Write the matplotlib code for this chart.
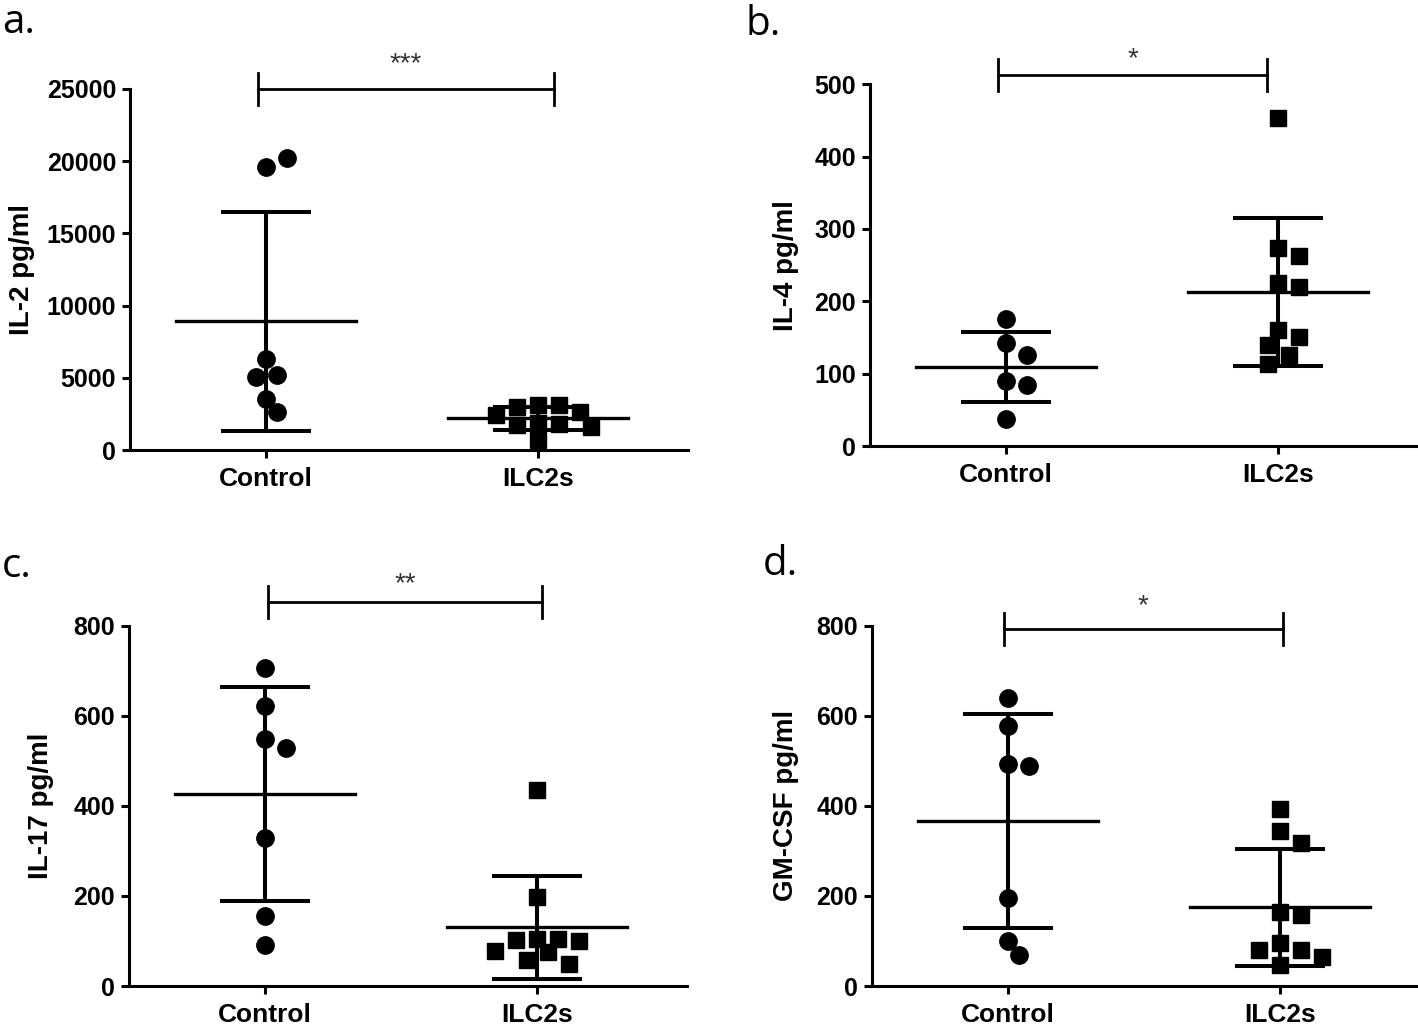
import numpy as np
import matplotlib.pyplot as plt

plt.rcParams['font.family'] = ['Liberation Sans', 'DejaVu Sans']

# ---- data ----
groups = ["Control", "ILC2s"]

il2_control = [19570, 20220, 6290, 5200, 5080, 3510, 2660]
il2_ilc2s = [3150, 3100, 3000, 2600, 2400, 1900, 1800, 1700, 1600, 700]
il4_control = [175, 142, 126, 90, 84, 38]
il4_ilc2s = [453, 274, 263, 226, 220, 161, 151, 140, 126, 113]
il17_control = [707, 622, 548, 528, 328, 155, 92]
il17_ilc2s = [435, 197, 105, 105, 102, 100, 78, 75, 58, 48]
gmcsf_control = [639, 578, 493, 489, 195, 100, 69]
gmcsf_ilc2s = [394, 344, 318, 164, 158, 95, 81, 80, 65, 47]

panel_letters = ["a.", "b.", "c.", "d."]
y_labels = ["IL-2 pg/ml", "IL-4 pg/ml", "IL-17 pg/ml", "GM-CSF pg/ml"]
y_max = [25000, 500, 800, 800]
y_step = [5000, 100, 200, 200]
stars = ["***", "*", "**", "*"]

# ---- layout (pixels of a 1418x1030 canvas) ----
W, H = 1418, 1030
UNIT = 272                       # px between the two groups
ctrl_px = [266, 1006, 265, 1008]
zero_px = [450, 446, 986, 986]   # y of the x axis
top_px = [89, 84.3, 625.7, 625.7]
label_x = [-0.170, -0.128, -0.135, -0.131]
bracket_y = [25000, 513, 853, 793]
bracket_x = [(-0.03, 1.06), (-0.03, 0.96), (0.01, 1.02), (-0.015, 1.01)]
star_off = [18, 11, 13, 16]
letter_pos = [(2, 33), (746, 35), (2, 577), (763, 575)]

data = [(il2_control, il2_ilc2s), (il4_control, il4_ilc2s),
        (il17_control, il17_ilc2s), (gmcsf_control, gmcsf_ilc2s)]


def swarm(values, height_px, ymax, diam=17, step=10.5):
    # simple beeswarm: shift points sideways until they stop overlapping
    placed, offsets = [], []
    cands = [0]
    for k in range(1, 12):
        cands += [k * step, -k * step]
    for v in values:
        y = v / ymax * height_px
        for c in cands:
            if all((c - px) ** 2 + (y - py) ** 2 >= (diam * 0.95) ** 2 for px, py in placed):
                break
        placed.append((c, y))
        offsets.append(c / UNIT)
    return np.array(offsets)


fig = plt.figure(figsize=(W / 100, H / 100), dpi=100)

for i in range(4):
    left = ctrl_px[i] - 0.5 * UNIT
    h = zero_px[i] - top_px[i]
    ax = fig.add_axes([left / W, (H - zero_px[i]) / H, 2.05 * UNIT / W, h / H])
    ax.set_xlim(-0.5, 1.55)
    ax.set_ylim(0, y_max[i])

    for j, vals in enumerate(data[i]):
        vals = np.array(vals, dtype=float)
        offs = swarm(vals, h, y_max[i])
        marker = 'o' if j == 0 else 's'
        ms = 12.5 if j == 0 else 11.5
        ax.plot(j + offs, vals, linestyle='none', marker=marker, ms=ms,
                color='black', clip_on=False, zorder=3)
        m = vals.mean()
        sd = vals.std(ddof=1)
        ax.plot([j - 0.33, j + 0.33], [m, m], color='black', lw=2.4, zorder=4)
        ax.plot([j, j], [m - sd, m + sd], color='black', lw=2.9, zorder=4)
        for e in (m - sd, m + sd):
            ax.plot([j - 0.165, j + 0.165], [e, e], color='black', lw=2.9,
                    solid_capstyle='butt', zorder=4)

    # significance bracket
    x0, x1 = bracket_x[i]
    yb = bracket_y[i]
    t = 16 / h * y_max[i]
    ax.plot([x0, x1], [yb, yb], color='black', lw=2.0, clip_on=False)
    ax.plot([x0, x0], [yb - t, yb + t], color='black', lw=2.0, clip_on=False)
    ax.plot([x1, x1], [yb - t, yb + t], color='black', lw=2.0, clip_on=False)
    ax.annotate(stars[i], xy=((x0 + x1) / 2, yb), xytext=(0, star_off[i]),
                textcoords='offset points', ha='center', va='center',
                fontsize=20, color='#333333', annotation_clip=False)

    ax.spines['top'].set_visible(False)
    ax.spines['right'].set_visible(False)
    ax.spines['left'].set_linewidth(2.2)
    ax.spines['bottom'].set_linewidth(2.2)
    ax.set_yticks(np.arange(0, y_max[i] + 1, y_step[i]))
    ax.set_xticks([0, 1])
    ax.set_xticklabels(groups)
    ax.tick_params(axis='y', length=6, width=2.2, pad=4, labelsize=18)
    ax.tick_params(axis='x', length=6, width=2.2, pad=6, labelsize=19)
    for lab in ax.get_xticklabels() + ax.get_yticklabels():
        lab.set_fontweight('bold')
    ax.set_ylabel(y_labels[i], fontsize=20, fontweight='bold')
    ax.yaxis.set_label_coords(label_x[i], 0.5)

    lx, ly = letter_pos[i]
    fig.text(lx / W, (H - ly) / H, panel_letters[i], fontsize=29,
             family=['Open Sans', 'DejaVu Sans'], va='baseline', ha='left')

fig.savefig('out.png', dpi=100)
